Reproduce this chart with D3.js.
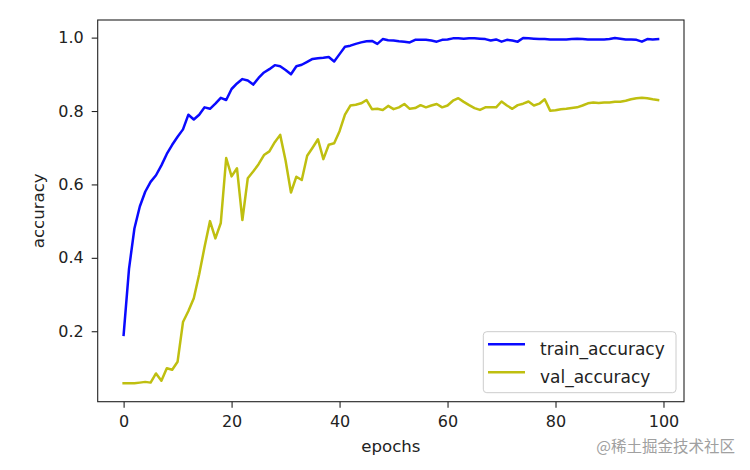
<!DOCTYPE html>
<html>
<head>
<meta charset="utf-8">
<script src="https://cdn.jsdelivr.net/npm/d3@7"></script>
<style>
  html, body { margin: 0; padding: 0; background: #ffffff; }
  svg { display: block; }
  text { font-family: "DejaVu Sans", sans-serif; fill: #222; }
</style>
</head>
<body>
<svg id="chart" width="750" height="470"></svg>
<script>
const epochs = d3.range(0, 100);
const trainAccuracy = [
  0.19, 0.37, 0.48, 0.54, 0.58, 0.607, 0.625, 0.652, 0.683, 0.708,
  0.73, 0.75, 0.79, 0.777, 0.79, 0.81, 0.806, 0.82, 0.836, 0.83,
  0.86, 0.875, 0.887, 0.883, 0.872, 0.89, 0.905, 0.914, 0.925, 0.922,
  0.912, 0.90, 0.922, 0.926, 0.934, 0.942, 0.944, 0.945, 0.947, 0.935,
  0.955, 0.975, 0.978, 0.983, 0.987, 0.99, 0.991, 0.983, 0.996, 0.993,
  0.992, 0.99, 0.989, 0.987, 0.994, 0.994, 0.994, 0.992, 0.989, 0.994,
  0.995, 0.998, 0.998, 0.997, 0.998, 0.998, 0.997, 0.996, 0.992, 0.995,
  0.989, 0.994, 0.992, 0.989, 0.999, 0.998, 0.997, 0.996, 0.996, 0.995,
  0.995, 0.995, 0.995, 0.996, 0.997, 0.996, 0.995, 0.995, 0.995, 0.995,
  0.996, 0.999, 0.997, 0.995, 0.995, 0.994, 0.989, 0.996, 0.995, 0.996
];
const valAccuracy = [
  0.058, 0.058, 0.058, 0.06, 0.062, 0.06, 0.085, 0.065, 0.099, 0.095,
  0.117, 0.225, 0.255, 0.29, 0.355, 0.43, 0.5, 0.453, 0.495, 0.672,
  0.622, 0.644, 0.503, 0.617, 0.635, 0.655, 0.68, 0.69, 0.715, 0.735,
  0.665, 0.578, 0.621, 0.612, 0.678, 0.7, 0.723, 0.669, 0.708, 0.712,
  0.745, 0.79, 0.815, 0.817, 0.821, 0.83, 0.805, 0.806, 0.803, 0.814,
  0.805, 0.81, 0.819, 0.806, 0.808, 0.816, 0.81, 0.815, 0.819, 0.81,
  0.815, 0.828, 0.835, 0.825, 0.816, 0.808, 0.803, 0.81, 0.81, 0.81,
  0.826, 0.815, 0.806, 0.816, 0.82, 0.826, 0.815, 0.82, 0.832, 0.801,
  0.802, 0.805, 0.806, 0.808, 0.81, 0.815, 0.821, 0.823, 0.822, 0.823,
  0.823, 0.825, 0.825, 0.828, 0.832, 0.835, 0.836, 0.835, 0.832, 0.83
];
const xTicks = [0, 20, 40, 60, 80, 100];
const yTicks = [0.2, 0.4, 0.6, 0.8, 1.0];
const seriesNames = ["train_accuracy", "val_accuracy"];
const seriesColors = ["#0a0aff", "#bfbf10"];

const svg = d3.select("#chart");
const L = 97.7, R = 684, T = 20, B = 401.7;

const x = d3.scaleLinear().domain([-4.8, 103.8]).range([L, R]);
const y = d3.scaleLinear().domain([0.008, 1.048]).range([B, T]);

svg.append("rect").attr("width", 750).attr("height", 470).attr("fill", "#fff");

const line = d3.line().x((d, i) => x(epochs[i])).y(d => y(d));

const series = [trainAccuracy, valAccuracy];
series.forEach((s, k) => {
  svg.append("path")
    .datum(s)
    .attr("d", line)
    .attr("fill", "none")
    .attr("stroke", seriesColors[k])
    .attr("stroke-width", 2.5)
    .attr("stroke-linejoin", "round")
    .attr("stroke-linecap", "square");
});

// axes
const xAxis = svg.append("g")
  .attr("transform", `translate(0,${B})`)
  .call(d3.axisBottom(x).tickValues(xTicks).tickFormat(d3.format("d")).tickSize(6).tickPadding(8));
const yAxis = svg.append("g")
  .attr("transform", `translate(${L},0)`)
  .call(d3.axisLeft(y).tickValues(yTicks).tickFormat(d3.format(".1f")).tickSize(6).tickPadding(8));

[xAxis, yAxis].forEach(g => {
  g.select(".domain").remove();
  g.selectAll(".tick line").attr("stroke", "#222").attr("stroke-width", 1.1);
  g.selectAll(".tick text")
    .attr("fill", "#222")
    .style("font-family", "'DejaVu Sans', sans-serif")
    .style("font-size", "16px");
});

// frame
svg.append("rect")
  .attr("x", L).attr("y", T)
  .attr("width", R - L).attr("height", B - T)
  .attr("fill", "none")
  .attr("stroke", "#222")
  .attr("stroke-width", 1.1);

// axis labels
svg.append("text")
  .attr("x", (L + R) / 2).attr("y", 451.5)
  .attr("text-anchor", "middle")
  .style("font-size", "16.6px")
  .text("epochs");
svg.append("text")
  .attr("transform", `translate(44.3,${(T + B) / 2}) rotate(-90)`)
  .attr("text-anchor", "middle")
  .style("font-size", "16.6px")
  .text("accuracy");

// legend
const lg = svg.append("g");
lg.append("rect")
  .attr("x", 483.3).attr("y", 331.7)
  .attr("width", 676 - 483.3).attr("height", 392.7 - 331.7)
  .attr("rx", 3.5)
  .attr("fill", "#ffffff").attr("fill-opacity", 0.8)
  .attr("stroke", "#cccccc").attr("stroke-width", 1);
seriesNames.forEach((name, k) => {
  const ly = 344.3 + k * 28;
  lg.append("line")
    .attr("x1", 488).attr("x2", 525)
    .attr("y1", ly).attr("y2", ly)
    .attr("stroke", seriesColors[k]).attr("stroke-width", 2.5);
  lg.append("text")
    .attr("x", 540).attr("y", ly + 10.5)
    .style("font-size", "17px")
    .text(name);
});

// watermark
svg.append("text")
  .attr("x", 735).attr("y", 451.5)
  .attr("text-anchor", "end")
  .style("font-family", "'Noto Sans CJK SC', sans-serif")
  .style("font-size", "15.5px")
  .style("fill", "#a0a0a0")
  .text("@稀土掘金技术社区");
</script>
</body>
</html>
